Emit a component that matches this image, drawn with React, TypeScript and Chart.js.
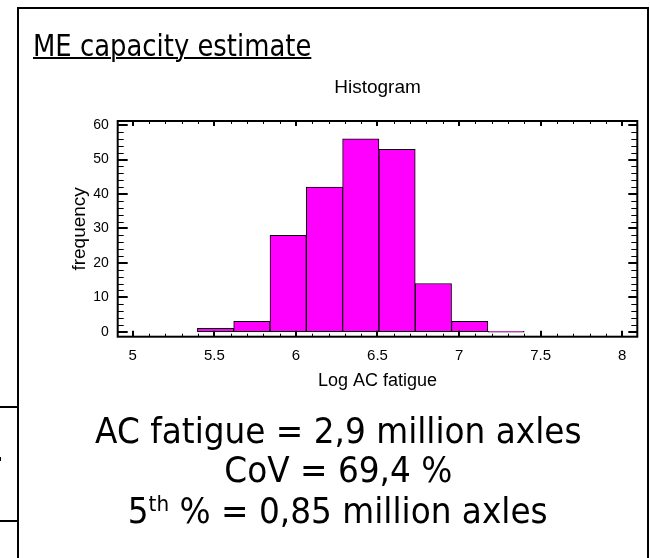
import React, { useEffect, useRef } from "react";
import { Chart, registerables } from "chart.js";

Chart.register(...registerables);

// Histogram of log AC fatigue life (200 simulations)
const binEdges = [5.396, 5.619, 5.841, 6.064, 6.286, 6.509, 6.731, 6.954, 7.176, 7.399];
const frequencies = [1, 3, 28, 42, 56, 53, 14, 3, 0];

const xTickValues = [5, 5.5, 6, 6.5, 7, 7.5, 8];
const yTickValues = [0, 10, 20, 30, 40, 50, 60];
const xMinorStep = 0.1;
const yMinorStep = 2;
const xRange = [4.908, 8.092];
const yRange = [-1.45, 61.2];

const chartTitle = "Histogram";
const xAxisTitle = "Log AC fatigue";
const yAxisTitle = "frequency";

const heading = "ME capacity estimate";
const fatigueLine = "AC fatigue = 2,9 million axles";
const covLine = "CoV = 69,4 %";
const percentileNumber = "5";
const percentileSuffix = "th";
const percentileRest = " % = 0,85 million axles";

const chartFont = "'Liberation Sans', Arial, sans-serif";
const slideFont = "'DejaVu Sans', Verdana, Tahoma, sans-serif";

// Closed frame with inward major/minor tick marks on all four sides
const frameTicks = {
  id: "frameTicks",
  afterDatasetsDraw(chart: any) {
    const { ctx, chartArea: a, scales } = chart;
    const x = scales.x;
    const y = scales.y;
    ctx.save();
    ctx.strokeStyle = "#000";

    const xk0 = Math.ceil(x.min / xMinorStep - 1e-6);
    const xk1 = Math.floor(x.max / xMinorStep + 1e-6);
    for (let k = xk0; k <= xk1; k++) {
      const major = k % 5 === 0;
      const px = Math.round(x.getPixelForValue(k * xMinorStep)) + (major ? 0 : 0.5);
      ctx.lineWidth = major ? 2 : 1;
      ctx.beginPath();
      ctx.moveTo(px, a.bottom);
      ctx.lineTo(px, a.bottom - (major ? 6 : 3));
      ctx.moveTo(px, a.top);
      ctx.lineTo(px, a.top + (major ? 5 : 3));
      ctx.stroke();
    }

    const yk0 = Math.ceil(y.min / yMinorStep - 1e-6);
    const yk1 = Math.floor(y.max / yMinorStep + 1e-6);
    for (let k = yk0; k <= yk1; k++) {
      const v = k * yMinorStep;
      const major = v % 10 === 0;
      const py = Math.round(y.getPixelForValue(v)) + (major ? 0 : 0.5);
      ctx.lineWidth = major ? 2 : 1;
      ctx.beginPath();
      ctx.moveTo(a.left, py);
      ctx.lineTo(a.left + (major ? 10 : 6), py);
      ctx.moveTo(a.right, py);
      ctx.lineTo(a.right - (major ? 9 : 6), py);
      ctx.stroke();
    }

    ctx.lineWidth = 2;
    ctx.strokeRect(a.left, a.top, a.right - a.left, a.bottom - a.top);
    ctx.restore();
  },
};

function HistogramChart() {
  const ref = useRef<HTMLCanvasElement>(null);

  useEffect(() => {
    if (!ref.current) return;
    const points = frequencies.map((f, i) => ({
      x: (binEdges[i] + binEdges[i + 1]) / 2,
      y: f,
    }));
    const chart = new Chart(ref.current, {
      type: "bar",
      data: {
        datasets: [
          {
            data: points,
            backgroundColor: "#ff00ff",
            borderColor: "#000",
            borderWidth: 1,
            borderSkipped: false,
            minBarLength: 1,
            barPercentage: 1,
            categoryPercentage: 1,
          },
        ],
      },
      options: {
        animation: false,
        responsive: false,
        devicePixelRatio: 1,
        layout: { padding: { left: 0, right: 12.7, top: 68, bottom: 161.3 } },
        plugins: {
          legend: { display: false },
          tooltip: { enabled: false },
          title: {
            display: true,
            text: chartTitle,
            fullSize: false,
            color: "#000",
            font: { family: chartFont, size: 19, weight: "normal" },
            padding: { top: 8.6, bottom: 21.6 },
          },
        },
        scales: {
          x: {
            type: "linear",
            min: xRange[0],
            max: xRange[1],
            offset: false,
            afterBuildTicks: (s: any) => {
              s.ticks = xTickValues.map((v) => ({ value: v }));
            },
            afterFit: (s: any) => {
              s.height = 60;
            },
            ticks: {
              callback: (v: any) => String(v),
              color: "#000",
              font: { family: chartFont, size: 15 },
              padding: 10,
              autoSkip: false,
              maxRotation: 0,
            },
            grid: { display: false, drawTicks: false },
            border: { display: false },
            title: {
              display: true,
              text: xAxisTitle,
              color: "#000",
              font: { family: chartFont, size: 18 },
              padding: { top: 0, bottom: 4.9 },
            },
          },
          y: {
            type: "linear",
            min: yRange[0],
            max: yRange[1],
            afterBuildTicks: (s: any) => {
              s.ticks = yTickValues.map((v) => ({ value: v }));
            },
            afterFit: (s: any) => {
              s.width = 117.7;
            },
            ticks: {
              callback: (v: any) => String(v),
              color: "#000",
              font: { family: chartFont, size: 14 },
              padding: 9,
            },
            grid: { display: false, drawTicks: false },
            border: { display: false },
            title: {
              display: true,
              text: yAxisTitle,
              color: "#000",
              font: { family: chartFont, size: 19 },
              padding: { top: 68.6, bottom: 0 },
            },
          },
        },
      },
      plugins: [frameTicks],
    });
    return () => chart.destroy();
  }, []);

  return (
    <canvas
      ref={ref}
      width={650}
      height={558}
      style={{ position: "absolute", left: 0, top: 0, width: 650, height: 558 }}
    />
  );
}

export default function App() {
  const line: React.CSSProperties = {
    position: "absolute",
    left: 38,
    width: 600,
    textAlign: "center",
    fontFamily: slideFont,
    fontSize: 36,
    lineHeight: "36px",
    color: "#000",
    whiteSpace: "nowrap",
  };
  const squeeze: React.CSSProperties = {
    display: "inline-block",
    transform: "scaleX(0.91)",
    transformOrigin: "center",
  };
  return (
    <div
      style={{
        position: "absolute",
        left: 0,
        top: 0,
        width: 650,
        height: 558,
        overflow: "hidden",
        background: "#fff",
      }}
    >
      {/* neighbouring table edges */}
      <div style={{ position: "absolute", left: 0, top: 406, width: 18, height: 2, background: "#000" }} />
      <div style={{ position: "absolute", left: 0, top: 520, width: 18, height: 2, background: "#000" }} />
      <div style={{ position: "absolute", left: 0, top: 457, width: 1, height: 4, background: "#000" }} />
      {/* slide frame */}
      <div
        style={{
          position: "absolute",
          left: 17,
          top: 7,
          width: 628,
          height: 600,
          border: "2px solid #000",
        }}
      />
      <HistogramChart />
      <div
        style={{
          position: "absolute",
          left: 33,
          top: 30,
          fontFamily: slideFont,
          fontSize: 31,
          lineHeight: "31px",
          color: "#000",
          whiteSpace: "nowrap",
          transform: "scaleX(0.835)",
          transformOrigin: "left",
          textDecoration: "underline",
          textDecorationThickness: 2,
        }}
      >
        {heading}
      </div>
      <div style={{ ...line, top: 413 }}>
        <span style={squeeze}>{fatigueLine}</span>
      </div>
      <div style={{ ...line, top: 452 }}>
        <span style={squeeze}>{covLine}</span>
      </div>
      <div style={{ ...line, top: 493 }}>
        <span style={squeeze}>
          {percentileNumber}
          <sup style={{ fontSize: 22, verticalAlign: "top", lineHeight: "22px" }}>{percentileSuffix}</sup>
          {percentileRest}
        </span>
      </div>
    </div>
  );
}
